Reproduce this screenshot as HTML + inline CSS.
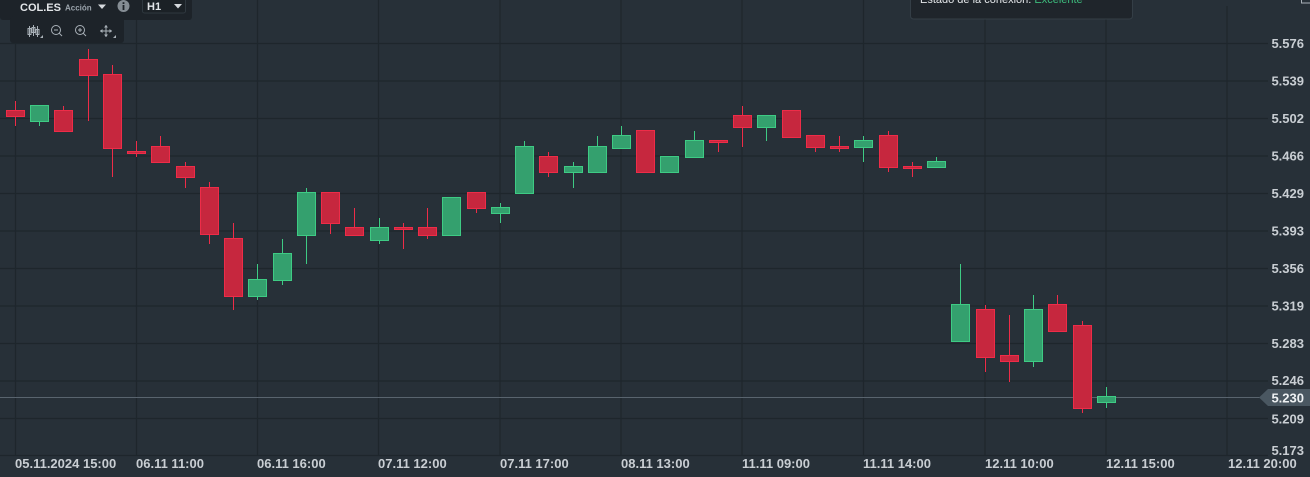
<!DOCTYPE html>
<html><head><meta charset="utf-8"><style>
html,body{margin:0;padding:0;background:#273038;}
body{width:1310px;height:477px;overflow:hidden;position:relative;font-family:"Liberation Sans",sans-serif;}
svg{position:absolute;left:0;top:0;}
</style></head><body>
<svg width="1310" height="477" viewBox="0 0 1310 477" xmlns="http://www.w3.org/2000/svg">
<rect x="0" y="0" width="1310" height="477" fill="#273038"/>
<g stroke="#1e262c" stroke-width="1.2" fill="none">
<line x1="0" y1="43.5" x2="1268" y2="43.5"/>
<line x1="0" y1="81" x2="1268" y2="81"/>
<line x1="0" y1="118.5" x2="1268" y2="118.5"/>
<line x1="0" y1="156" x2="1268" y2="156"/>
<line x1="0" y1="193.5" x2="1268" y2="193.5"/>
<line x1="0" y1="231" x2="1268" y2="231"/>
<line x1="0" y1="268.5" x2="1268" y2="268.5"/>
<line x1="0" y1="306" x2="1268" y2="306"/>
<line x1="0" y1="343.5" x2="1268" y2="343.5"/>
<line x1="0" y1="381" x2="1268" y2="381"/>
<line x1="0" y1="418.5" x2="1268" y2="418.5"/>
<line x1="0" y1="455.5" x2="1268" y2="455.5"/>
<line x1="15.5" y1="0" x2="15.5" y2="456"/>
<line x1="136.5" y1="0" x2="136.5" y2="456"/>
<line x1="257.5" y1="0" x2="257.5" y2="456"/>
<line x1="378.5" y1="0" x2="378.5" y2="456"/>
<line x1="500" y1="0" x2="500" y2="456"/>
<line x1="621" y1="0" x2="621" y2="456"/>
<line x1="742" y1="0" x2="742" y2="456"/>
<line x1="863.5" y1="0" x2="863.5" y2="456"/>
<line x1="985" y1="0" x2="985" y2="456"/>
<line x1="1106" y1="0" x2="1106" y2="456"/>
<line x1="1227" y1="6" x2="1227" y2="456"/>
</g>

<!-- current price line -->
<line x1="0" y1="397.5" x2="1262" y2="397.5" stroke="#59646e" stroke-width="1"/>

<g id="candles"></g>

<!-- right axis -->
<g font-family="Liberation Sans, sans-serif" font-size="13" font-weight="bold" fill="#c9ced3" text-anchor="end">
<text x="1304" y="48">5.576</text>
<text x="1304" y="85.5">5.539</text>
<text x="1304" y="123">5.502</text>
<text x="1304" y="160.5">5.466</text>
<text x="1304" y="198">5.429</text>
<text x="1304" y="235.5">5.393</text>
<text x="1304" y="273">5.356</text>
<text x="1304" y="310.5">5.319</text>
<text x="1304" y="348">5.283</text>
<text x="1304" y="385">5.246</text>
<text x="1304" y="423.5">5.209</text>
<text x="1304" y="455">5.173</text>
</g>
<polygon points="1259,397.5 1268,389 1310,389 1310,406 1268,406" fill="#4a5761"/>
<text x="1304" y="402.5" font-family="Liberation Sans, sans-serif" font-size="13" font-weight="bold" fill="#eef1f3" text-anchor="end">5.230</text>

<!-- bottom axis -->
<g font-family="Liberation Sans, sans-serif" font-size="13" font-weight="bold" fill="#c9ced3">
<text x="15" y="468">05.11.2024 15:00</text>
<text x="136" y="468">06.11 11:00</text>
<text x="257" y="468">06.11 16:00</text>
<text x="378" y="468">07.11 12:00</text>
<text x="500" y="468">07.11 17:00</text>
<text x="621" y="468">08.11 13:00</text>
<text x="742" y="468">11.11 09:00</text>
<text x="863" y="468">11.11 14:00</text>
<text x="985" y="468">12.11 10:00</text>
<text x="1106" y="468">12.11 15:00</text>
<text x="1228" y="468">12.11 20:00</text>
</g>

<!-- top-left toolbar -->
<rect x="0" y="-4" width="192" height="24" rx="3" fill="#1d2329"/>
<rect x="10" y="16" width="114" height="27" rx="3" fill="#1d2329"/>
<text x="20" y="11" font-family="Liberation Sans, sans-serif" font-size="11" font-weight="bold" fill="#e3e6e9">COL.ES</text>
<text x="65" y="10.5" font-family="Liberation Sans, sans-serif" font-size="8" font-weight="bold" fill="#9aa3ab">Acción</text>
<polygon points="98,4.5 106,4.5 102,9" fill="#d5d9dd"/>
<circle cx="123.5" cy="6" r="6" fill="#858d94"/>
<rect x="122.6" y="5" width="1.8" height="5" fill="#1d2329"/>
<rect x="122.6" y="2.2" width="1.8" height="1.8" fill="#1d2329"/>
<rect x="142.5" y="-2" width="43" height="15" rx="2" fill="#1b2126" stroke="#2f383f"/>
<text x="147" y="10" font-family="Liberation Sans, sans-serif" font-size="11" font-weight="bold" fill="#e3e6e9">H1</text>
<polygon points="174,4 182,4 178,8.5" fill="#d5d9dd"/>
<!-- icons row -->
<g stroke="#a9b1b8" stroke-width="1" fill="none">
<line x1="29.5" y1="26" x2="29.5" y2="37"/><rect x="28" y="28.5" width="3" height="6"/>
<line x1="33.5" y1="25" x2="33.5" y2="36"/><rect x="32" y="27.5" width="3" height="5"/>
<line x1="37.5" y1="26" x2="37.5" y2="37"/><rect x="36" y="29.5" width="3" height="5"/>
<circle cx="56" cy="30" r="4.5"/><line x1="59.3" y1="33.3" x2="62" y2="36"/><line x1="54" y1="30" x2="58" y2="30"/>
<circle cx="80" cy="30" r="4.5"/><line x1="83.3" y1="33.3" x2="86" y2="36"/><line x1="78" y1="30" x2="82" y2="30"/><line x1="80" y1="28" x2="80" y2="32"/>
<line x1="100" y1="31" x2="112" y2="31"/><line x1="106" y1="25" x2="106" y2="37"/>
</g>
<g fill="#a9b1b8">
<polygon points="100,31 102.5,29 102.5,33"/><polygon points="112,31 109.5,29 109.5,33"/>
<polygon points="106,25 104,27.5 108,27.5"/><polygon points="106,37 104,34.5 108,34.5"/>
<polygon points="43,38 40,38 43,35"/><polygon points="116,38 113,38 116,35"/>
</g>

<!-- connection box -->
<rect x="910.5" y="-6" width="222" height="25" rx="3" fill="#1f252b" stroke="#343e46"/>
<text x="920" y="3" font-family="Liberation Sans, sans-serif" font-size="11" fill="#e3e6e9">Estado de la conexión: <tspan fill="#3dbb7c">Excelente</tspan></text>
<rect x="1301.5" y="-4" width="9" height="7" fill="none" stroke="#a9b1b8"/>
</svg>
<script>
var d=[
['r',101,110,116,126],['g',105,105,121,126],['r',106,110,131,131],['r',49,59,75,121],['r',65,74,148,177],
['r',141,151,153,157],['r',136,146,162,162],['r',162,166,177,188],['r',182,187,234,244],['r',223,238,296,310],
['g',264,279,296,300],['g',239,253,280,285],['g',188,192,235,264],['r',192,192,223,234],['r',208,227,235,235],
['g',218,227,240,244],['r',223,227,229,249],['r',208,227,235,239],['g',197,197,235,235],['r',192,192,208,213],
['g',203,207,213,223],['g',141,146,193,193],['r',152,156,172,177],['g',162,166,172,188],['g',136,146,172,172],
['g',126,135,148,148],['r',130,130,172,172],['g',156,156,172,172],['g',131,140,157,157],['r',140,140,142,152],
['r',106,115,127,147],['g',115,115,127,141],['r',110,110,137,137],['r',135,135,147,152],['r',136,146,148,152],
['g',136,140,147,162],['r',131,135,167,172],['r',162,166,168,177],['g',157,161,167,167],['g',264,304,341,341],
['r',305,309,357,372],['r',315,355,361,382],['g',295,309,361,367],['r',295,304,331,331],['r',321,325,408,413],
['g',387,396,402,408]];
var s='';
for(var i=0;i<d.length;i++){
 var c=d[i],x=Math.round(15+i*24.24);
 var st=c[0]=='r'?'#ee2c48':'#3ecb84', fl=c[0]=='r'?'#c6273e':'#34a06e';
 s+='<line x1="'+(x+0.5)+'" y1="'+c[1]+'" x2="'+(x+0.5)+'" y2="'+c[4]+'" stroke="'+st+'" stroke-width="1"/>';
 var h=Math.max(c[3]-c[2],2);
 s+='<rect x="'+(x-8.5)+'" y="'+(c[2]+0.5)+'" width="18" height="'+h+'" fill="'+fl+'" stroke="'+st+'" stroke-width="1"/>';
}
document.getElementById('candles').innerHTML=s;
</script>
</body></html>
